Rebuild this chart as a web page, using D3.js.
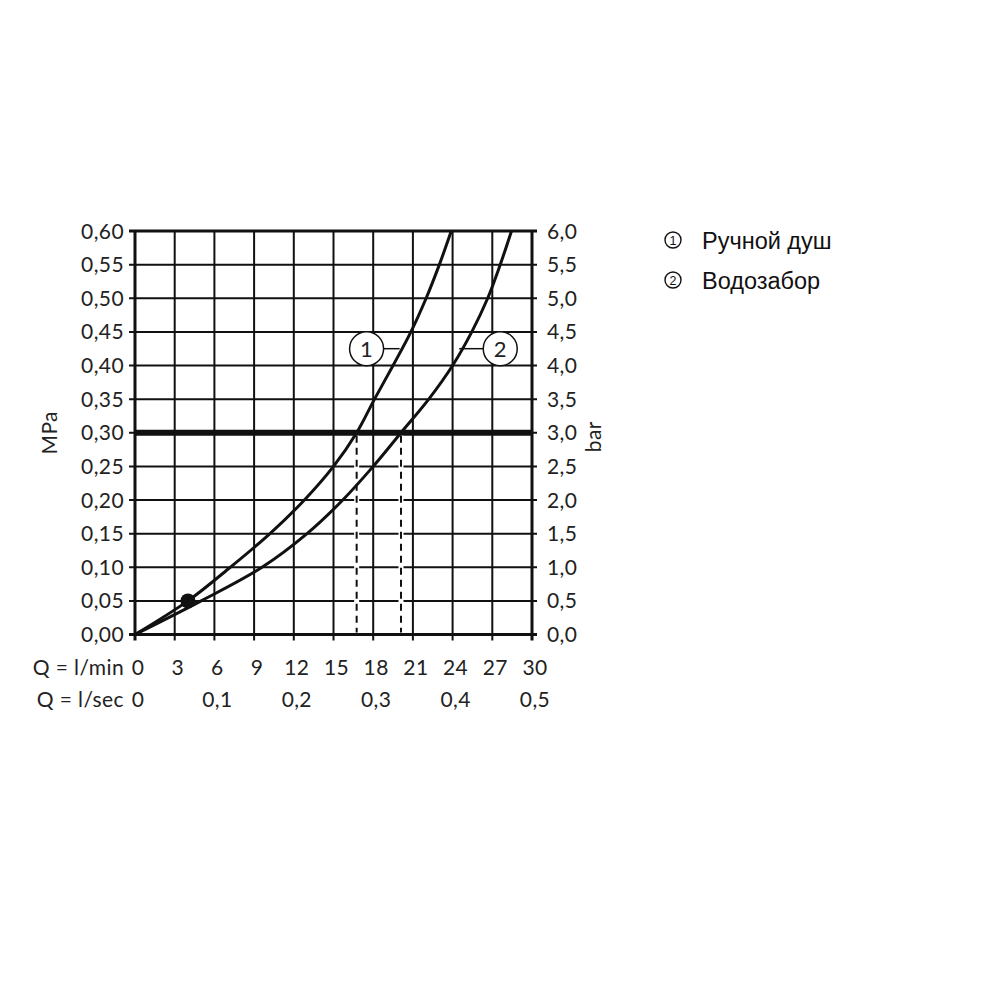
<!DOCTYPE html>
<html>
<head>
<meta charset="utf-8">
<script src="https://cdn.jsdelivr.net/npm/d3@7"></script>
<style>
  html, body { margin: 0; padding: 0; background: #fff; }
  svg { display: block; }
  .ax { font-family: Lato, "Open Sans", sans-serif; font-size: 21px; fill: #222; letter-spacing: 0.4px; }
  .leg { font-family: "Liberation Sans", Arial, sans-serif; font-size: 23.5px; fill: #111; }
</style>
</head>
<body>
<svg id="chart" width="1000" height="1000"></svg>
<script>
// ---- data ----
const flowTicksLmin = [0, 3, 6, 9, 12, 15, 18, 21, 24, 27, 30];
const flowLabelsLsec = ["0", "0,1", "0,2", "0,3", "0,4", "0,5"];
const flowTicksLsec = [0, 6, 12, 18, 24, 30]; // positions in l/min
const pressureTicks = [0, 0.05, 0.10, 0.15, 0.20, 0.25, 0.30, 0.35, 0.40, 0.45, 0.50, 0.55, 0.60];
const mpaLabels = ["0,00","0,05","0,10","0,15","0,20","0,25","0,30","0,35","0,40","0,45","0,50","0,55","0,60"];
const barLabels = ["0,0","0,5","1,0","1,5","2,0","2,5","3,0","3,5","4,0","4,5","5,0","5,5","6,0"];

// curve 1: Ручной душ (flow l/min, pressure MPa)
const curve1Flow = [0, 4.0, 7.2, 10.2, 12.8, 15.0, 16.75, 18.1, 19.5, 20.85, 22.0, 23.0, 23.9];
const curve1Pres = [0, 0.05, 0.10, 0.15, 0.20, 0.25, 0.30, 0.35, 0.40, 0.45, 0.50, 0.55, 0.60];
// curve 2: Водозабор
const curve2Flow = [0, 5.0, 9.6, 13.0, 15.7, 18.0, 20.1, 22.2, 24.0, 25.45, 26.65, 27.6, 28.45];
const curve2Pres = [0, 0.05, 0.10, 0.15, 0.20, 0.25, 0.30, 0.35, 0.40, 0.45, 0.50, 0.55, 0.60];

const refPressure = 0.30;
const refFlows = [16.75, 20.1];
const markerPoint = [4.0, 0.05];
const curveLabels = ["1", "2"];
const curveLabelPos = [[17.5, 0.425], [27.6, 0.425]];
const curveLabelLeaderEnd = [20.0, 24.5];
const legendItems = ["Ручной душ", "Водозабор"];

// ---- drawing ----
const svg = d3.select("#chart");
const x = d3.scaleLinear().domain([0, 30]).range([135, 532]);
const y = d3.scaleLinear().domain([0, 0.6]).range([634.5, 231]);

const g = svg.append("g");

// grid
g.selectAll("line.vg").data(flowTicksLmin).join("line")
  .attr("x1", d => x(d)).attr("x2", d => x(d))
  .attr("y1", y(0.6)).attr("y2", y(0) + 6)
  .attr("stroke", "#111").attr("stroke-width", d => (d === 0 || d === 30) ? 3 : 2);
g.selectAll("line.hg").data(pressureTicks).join("line")
  .attr("x1", x(0) - 6).attr("x2", x(30) + 5)
  .attr("y1", d => y(d)).attr("y2", d => y(d))
  .attr("stroke", "#111").attr("stroke-width", d => (d === 0 || d === 0.6) ? 3 : 2);

// bold reference line
g.append("line")
  .attr("x1", x(0)).attr("x2", x(30))
  .attr("y1", y(refPressure)).attr("y2", y(refPressure))
  .attr("stroke", "#111").attr("stroke-width", 6);

// dashed drop lines
refFlows.forEach(f => {
  g.append("line").attr("x1", x(f)).attr("x2", x(f))
    .attr("y1", y(refPressure) + 3).attr("y2", y(0) - 2)
    .attr("stroke", "#fff").attr("stroke-width", 5);
  g.append("line").attr("x1", x(f)).attr("x2", x(f))
    .attr("y1", y(refPressure) + 3).attr("y2", y(0) - 2)
    .attr("stroke", "#111").attr("stroke-width", 2)
    .attr("stroke-dasharray", "7,5");
});

// curves
const line = d3.line().x(d => x(d[0])).y(d => y(d[1])).curve(d3.curveCatmullRom.alpha(0.5));
[[curve1Flow, curve1Pres], [curve2Flow, curve2Pres]].forEach(([f, p]) => {
  g.append("path").attr("d", line(f.map((v, i) => [v, p[i]])))
    .attr("fill", "none").attr("stroke", "#111").attr("stroke-width", 3);
});

// marker
g.append("circle").attr("cx", x(markerPoint[0])).attr("cy", y(markerPoint[1]))
  .attr("r", 7.5).attr("fill", "#111");

// circled curve labels with leaders
curveLabelPos.forEach((pos, i) => {
  const cx = x(pos[0]), cy = y(pos[1]);
  const lx = x(curveLabelLeaderEnd[i]);
  g.append("line").attr("x1", i === 0 ? cx + 17 : lx).attr("x2", i === 0 ? lx : cx - 17)
    .attr("y1", cy).attr("y2", cy).attr("stroke", "#111").attr("stroke-width", 1.5);
  g.append("circle").attr("cx", cx).attr("cy", cy).attr("r", 17)
    .attr("fill", "#fff").attr("stroke", "#111").attr("stroke-width", 1.5);
  g.append("text").attr("class", "ax").attr("x", cx).attr("y", cy + 8)
    .attr("text-anchor", "middle").style("font-size", "22px").text(curveLabels[i]);
});

// left labels
g.selectAll("text.mpa").data(pressureTicks).join("text")
  .attr("class", "ax").attr("x", 124).attr("y", d => y(d) + 7.5)
  .attr("text-anchor", "end").text((d, i) => mpaLabels[i]);
// right labels
g.selectAll("text.bar").data(pressureTicks).join("text")
  .attr("class", "ax").attr("x", 547).attr("y", d => y(d) + 7.5)
  .attr("text-anchor", "start").text((d, i) => barLabels[i]);

// axis titles
g.append("text").attr("class", "ax").attr("transform", `translate(57,${y(0.3)}) rotate(-90)`)
  .attr("text-anchor", "middle").text("MPa");
g.append("text").attr("class", "ax").attr("transform", `translate(601,${y(0.3) + 4}) rotate(-90)`)
  .attr("text-anchor", "middle").text("bar");

// bottom labels
g.append("text").attr("class", "ax").attr("x", 124).attr("y", 675)
  .attr("text-anchor", "end").text("Q = l/min");
g.append("text").attr("class", "ax").attr("x", 124).attr("y", 707)
  .attr("text-anchor", "end").text("Q = l/sec");
g.selectAll("text.lmin").data(flowTicksLmin).join("text")
  .attr("class", "ax").attr("x", d => x(d) + 3).attr("y", 675)
  .attr("text-anchor", "middle").text(d => d);
g.selectAll("text.lsec").data(flowTicksLsec).join("text")
  .attr("class", "ax").attr("x", d => x(d) + 3).attr("y", 707)
  .attr("text-anchor", "middle").text((d, i) => flowLabelsLsec[i]);

// legend
legendItems.forEach((t, i) => {
  const cy = 240 + i * 40;
  g.append("circle").attr("cx", 673).attr("cy", cy).attr("r", 8)
    .attr("fill", "none").attr("stroke", "#111").attr("stroke-width", 1.4);
  g.append("text").attr("class", "leg").attr("x", 673).attr("y", cy + 4.5)
    .attr("text-anchor", "middle").style("font-size", "12.5px").text(String(i + 1));
  g.append("text").attr("class", "leg").attr("x", 702).attr("y", cy + 8.5)
    .text(t);
});
</script>
</body>
</html>
